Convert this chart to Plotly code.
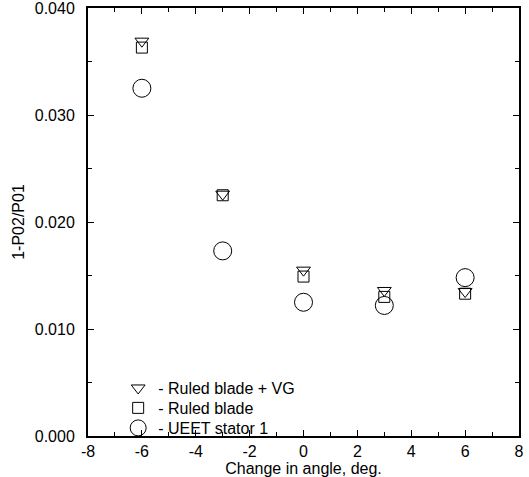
import plotly.graph_objects as go

angles = [-6, -3, 0, 3, 6]
ruled_vg = [0.0369, 0.0226, 0.0155, 0.0136, 0.0135]
ruled = [0.0363, 0.0225, 0.0149, 0.0130, 0.0133]
ueet = [0.0325, 0.0173, 0.0125, 0.0122, 0.0148]

series_names = ["- Ruled blade + VG", "- Ruled blade", "- UEET stator 1"]
x_ticks = [-8, -6, -4, -2, 0, 2, 4, 6, 8]
y_ticks = [0.0, 0.01, 0.02, 0.03, 0.04]
y_tick_labels = ["0.000", "0.010", "0.020", "0.030", "0.040"]

font = "Liberation Sans, Arial, Helvetica, sans-serif"
fs = 16

fig = go.Figure()
styles = [("triangle-down-open", 12), ("square-open", 11), ("circle-open", 18)]
legend_ids = ["legend", "legend2", "legend3"]
for name, vals, (sym, sz), lg in zip(series_names, [ruled_vg, ruled, ueet], styles, legend_ids):
    fig.add_trace(go.Scatter(
        x=angles, y=vals, mode="markers", name=name, legend=lg, showlegend=True,
        marker=dict(symbol=sym, size=sz, color="black", line=dict(width=1, color="black")),
    ))

axis_common = dict(
    showline=True, linecolor="black", linewidth=2, mirror="allticks",
    ticks="inside", ticklen=6, tickwidth=1.2, tickcolor="black",
    showgrid=False, zeroline=False, ticklabeloverflow="allow", automargin=False,
    tickfont=dict(family=font, size=fs, color="black"),
)

fig.update_xaxes(
    range=[-8, 8], tickvals=x_ticks, ticktext=[str(v) for v in x_ticks],
    minor=dict(ticks="inside", dtick=1, ticklen=4, tickcolor="black", tickwidth=1.2),
    ticklabelstandoff=0,
    title=dict(text="Change in angle, deg.", font=dict(family=font, size=fs, color="black"), standoff=0),
    **axis_common,
)
fig.update_yaxes(
    range=[0, 0.04], tickvals=y_ticks, ticktext=y_tick_labels,
    minor=dict(ticks="inside", dtick=0.005, ticklen=4, tickcolor="black", tickwidth=1.2),
    ticklabelstandoff=8,
    title=dict(text="1-P02/P01", font=dict(family=font, size=fs, color="black"), standoff=6),
    **axis_common,
)

legend_style = dict(
    x=0.07, xanchor="left", yanchor="middle", visible=True,
    bgcolor="rgba(0,0,0,0)", borderwidth=0,
    font=dict(family=font, size=fs, color="black"),
    itemwidth=30,
)
fig.update_layout(
    width=529, height=477,
    margin=dict(l=88, r=10, t=8, b=41),
    showlegend=True,
    plot_bgcolor="white", paper_bgcolor="white",
    font=dict(family=font, size=fs, color="black"),
    legend=dict(y=0.112, **legend_style),
    legend2=dict(y=0.0655, **legend_style),
    legend3=dict(y=0.0187, **legend_style),
)

fig.write_html("out.html", config={"displayModeBar": False},
               post_script="document.body.style.margin='0px';")
